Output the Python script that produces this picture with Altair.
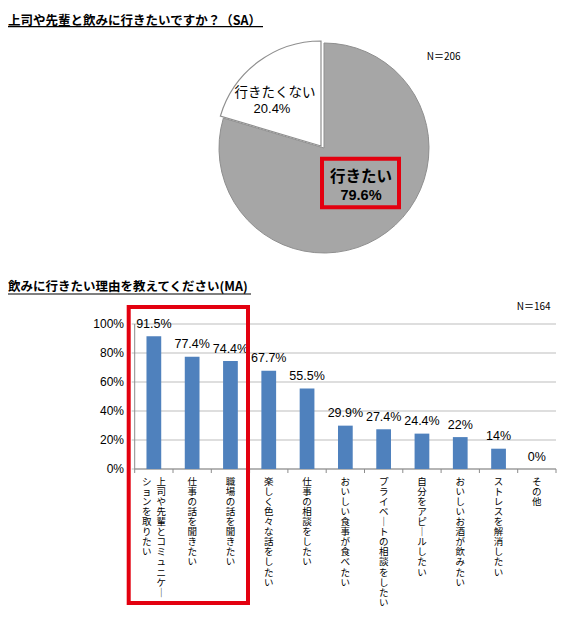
import altair as alt
import pandas as pd

# ---------------- data ----------------
title_pie = "上司や先輩と飲みに行きたいですか？（SA）"
title_bar = "飲みに行きたい理由を教えてください(MA)"
n_pie = "N＝206"
n_bar = "N＝164"

pie_labels = ["行きたい", "行きたくない"]
pie_values = [79.6, 20.4]
pie_value_labels = ["79.6%", "20.4%"]

categories = [
    "上司や先輩とコミュニケーションを取りたい",
    "仕事の話を聞きたい",
    "職場の話を聞きたい",
    "楽しく色々な話をしたい",
    "仕事の相談をしたい",
    "おいしい食事が食べたい",
    "プライベートの相談をしたい",
    "自分をアピールしたい",
    "おいしいお酒が飲みたい",
    "ストレスを解消したい",
    "その他",
]
values = [91.5, 77.4, 74.4, 67.7, 55.5, 29.9, 27.4, 24.4, 22, 14, 0]
value_labels = ["91.5%", "77.4%", "74.4%", "67.7%", "55.5%", "29.9%",
                "27.4%", "24.4%", "22%", "14%", "0%"]
# vertical tick labels (right column, left column)
label_col1 = ["上司や先輩とコミュニケー", "仕事の話を聞きたい", "職場の話を聞きたい",
              "楽しく色々な話をしたい", "仕事の相談をしたい", "おいしい食事が食べたい",
              "プライベートの相談をしたい", "自分をアピールしたい", "おいしいお酒が飲みたい",
              "ストレスを解消したい", "その他"]
label_col2 = ["ションを取りたい", "", "", "", "", "", "", "", "", "", ""]

y_ticks = [0, 20, 40, 60, 80, 100]
y_tick_labels = ["0%", "20%", "40%", "60%", "80%", "100%"]

# ---------------- styling ----------------
JP = "Noto Sans CJK JP"
LAT = "Liberation Sans, Arial, Noto Sans CJK JP"
RED = "#e3000f"
GRID = "#bdbdbd"
AXIS = "#8c8c8c"

X_RANGE = [126.7, 548]
Y_RANGE = [461, 316]


def vert(s):
    return "\n".join(ch if ch != "ー" else "｜" for ch in s)


bars_df = pd.DataFrame({
    "cat": categories,
    "value": values,
    "vlabel": value_labels,
    "col1": [vert(s) for s in label_col1],
    "col2": [vert(s) for s in label_col2],
    "has2": [1 if s else 0 for s in label_col2],
})

pie_df = pd.DataFrame({"label": pie_labels, "value": pie_values, "vlabel": pie_value_labels})
pie_df["end"] = pie_df["value"].cumsum()
pie_df["start"] = pie_df["end"] - pie_df["value"]

ticks_df = pd.DataFrame({"tick": y_ticks, "tlabel": y_tick_labels})

xenc = alt.X("cat:N", sort=categories, axis=None,
             scale=alt.Scale(range=X_RANGE, paddingInner=0, paddingOuter=0))
yscale = alt.Scale(domain=[0, 100], range=Y_RANGE, nice=False, zero=True)


def one():
    return alt.Chart(pd.DataFrame({"t": [""]}))


def note(text, x, y, **mk):
    return alt.Chart(pd.DataFrame({"t": [text]})).mark_text(**mk).encode(
        x=alt.value(x), y=alt.value(y), text="t:N")


def hline(x1, x2, y, color, w):
    return one().mark_rule(color=color, strokeWidth=w).encode(
        x=alt.value(x1), x2=alt.value(x2), y=alt.value(y))


def box(x1, x2, y1, y2):
    return one().mark_rect(fill="transparent", stroke=RED, strokeWidth=4).encode(
        x=alt.value(x1), x2=alt.value(x2), y=alt.value(y1), y2=alt.value(y2))


# ---------------- pie ----------------
theta_scale = alt.Scale(domain=[0, 100], range=[0, 6.283185307])
pie_gray = alt.Chart(pie_df).transform_filter(alt.datum.label == "行きたい").mark_arc(
    radius=105, stroke="#8f8f8f", strokeWidth=1, color="#a6a6a6"
).encode(
    theta=alt.Theta("start:Q", scale=theta_scale), theta2="end:Q",
    x=alt.value(316), y=alt.value(140),
)
pie_white = alt.Chart(pie_df).transform_filter(alt.datum.label == "行きたくない").mark_arc(
    radius=105, stroke="#8f8f8f", strokeWidth=1.2, color="#ffffff"
).encode(
    theta=alt.Theta("start:Q", scale=theta_scale), theta2="end:Q",
    x=alt.value(313), y=alt.value(138),
)

pie_txt = [
    note(pie_labels[1], 267, 85, font=JP, fontSize=13.5, align="center", baseline="middle"),
    note(pie_value_labels[1], 264, 101, font=LAT, fontSize=13, align="center", baseline="middle"),
    note(pie_labels[0], 353, 168.5, font=JP, fontSize=15.5, fontWeight="bold", align="center", baseline="middle"),
    note(pie_value_labels[0], 353, 188, font=LAT, fontSize=14.5, fontWeight="bold", align="center", baseline="middle"),
    box(314, 391, 150.7, 199.3),
]

# ---------------- titles ----------------
titles = [
    note(title_pie, 0, 12.7, font=JP, fontSize=12.5, fontWeight="bold", align="left", baseline="middle"),
    hline(0, 255, 18.7, "#000000", 1.2),
    note(n_pie, 418.7, 48.7, font=JP, fontSize=10, align="left", baseline="middle"),
    note(title_bar, 0, 278.7, font=JP, fontSize=12.5, fontWeight="bold", align="left", baseline="middle"),
    hline(0, 243, 286, "#000000", 1.2),
    note(n_bar, 508.7, 298.7, font=JP, fontSize=10, align="left", baseline="middle"),
]

# ---------------- bar chart ----------------
grid = alt.Chart(ticks_df).mark_rule(color=GRID, strokeWidth=1).encode(
    y=alt.Y("tick:Q", scale=yscale, axis=None),
    x=alt.value(X_RANGE[0] - 3), x2=alt.value(X_RANGE[1]),
)
ytick_labels = alt.Chart(ticks_df).mark_text(
    font=LAT, fontSize=12, align="right", baseline="middle"
).encode(
    y=alt.Y("tick:Q", scale=yscale, axis=None), x=alt.value(116), text="tlabel:N",
)
yaxis_line = alt.Chart(pd.DataFrame({"a": [y_ticks[0]], "b": [y_ticks[-1]]})).mark_rule(
    color=AXIS, strokeWidth=1
).encode(
    y=alt.Y("a:Q", scale=yscale, axis=None), y2="b:Q", x=alt.value(X_RANGE[0]),
)
xaxis_line = alt.Chart(pd.DataFrame({"a": [0]})).mark_rule(color=AXIS, strokeWidth=1).encode(
    y=alt.Y("a:Q", scale=yscale, axis=None),
    x=alt.value(X_RANGE[0]), x2=alt.value(X_RANGE[1]),
)
xticks = alt.Chart(bars_df).mark_rule(color=AXIS, strokeWidth=1).encode(
    x=alt.X("cat:N", sort=categories, axis=None, bandPosition=0,
            scale=alt.Scale(range=X_RANGE, paddingInner=0, paddingOuter=0)),
    y=alt.value(Y_RANGE[0]), y2=alt.value(Y_RANGE[0] + 4),
)
xtick_last = alt.Chart(bars_df).transform_filter(alt.datum.cat == categories[-1]).mark_rule(
    color=AXIS, strokeWidth=1
).encode(
    x=alt.X("cat:N", sort=categories, axis=None, bandPosition=1,
            scale=alt.Scale(range=X_RANGE, paddingInner=0, paddingOuter=0)),
    y=alt.value(Y_RANGE[0]), y2=alt.value(Y_RANGE[0] + 4),
)

bars = alt.Chart(bars_df).mark_bar(
    width=alt.RelativeBandSize(0.385), color="#4f81bd"
).encode(x=xenc, y=alt.Y("value:Q", scale=yscale, axis=None))

bar_labels = alt.Chart(bars_df).mark_text(
    font=LAT, fontSize=12.5, dy=-12.5, baseline="middle", align="center"
).encode(x=xenc, y=alt.Y("value:Q", scale=yscale, axis=None), text="vlabel:N")

vt = dict(font=JP, fontSize=9.5, lineBreak="\n", lineHeight=10.1, baseline="top", align="center")
xlab_single = alt.Chart(bars_df).transform_filter(alt.datum.has2 == 0).mark_text(**vt).encode(
    x=xenc, y=alt.value(468.7), text="col1:N")
xlab_right = alt.Chart(bars_df).transform_filter(alt.datum.has2 == 1).mark_text(dx=7.5, **vt).encode(
    x=xenc, y=alt.value(468.7), text="col1:N")
xlab_left = alt.Chart(bars_df).transform_filter(alt.datum.has2 == 1).mark_text(dx=-7, **vt).encode(
    x=xenc, y=alt.value(468.7), text="col2:N")

bar_box = box(120.7, 240, 299, 595)

chart = alt.layer(
    *titles,
    pie_gray, pie_white, *pie_txt,
    grid, yaxis_line, xaxis_line, xticks, xtick_last, ytick_labels,
    bars, bar_labels, xlab_single, xlab_right, xlab_left,
    bar_box,
).properties(
    width=554, height=604,
    autosize=alt.AutoSizeParams(type="none"),
    padding=0,
).configure_view(stroke=None)

chart.save("out.html", embed_options={"renderer": "svg", "actions": False})
